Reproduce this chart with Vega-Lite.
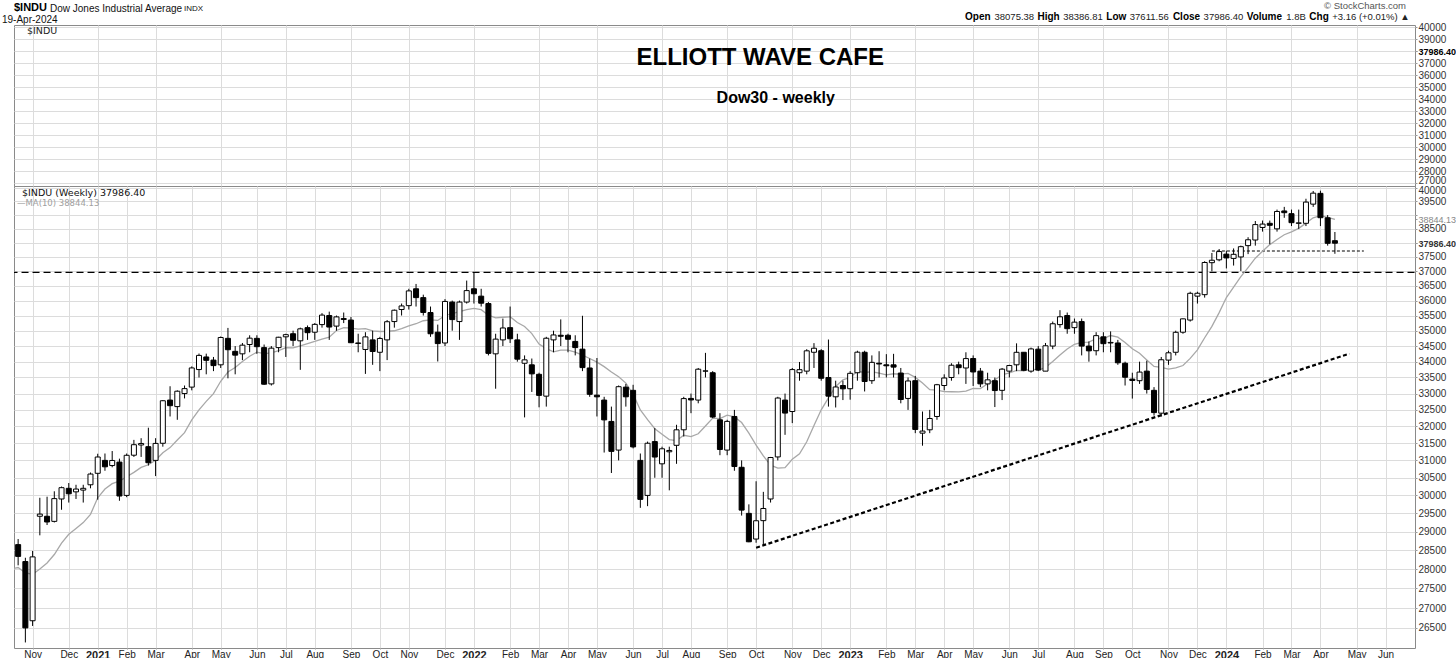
{
  "$schema": "https://vega.github.io/schema/vega-lite/v6.json",
  "background": "white",
  "padding": {"left": 1, "top": 0, "right": 0, "bottom": 0},
  "bounds": "flush",
  "spacing": 0,
  "config": {
    "font": "Liberation Sans",
    "view": {"stroke": "#8a8a8a", "strokeWidth": 1},
    "scale": {"continuousPadding": 0},
    "axis": {"gridColor": "#dcdcdc", "gridWidth": 1, "domain": false, "tickColor": "#999999", "labelColor": "#333333", "labelFont": "Liberation Sans", "labelOverlap": false, "labelBound": false},
    "axisX": {"labelOverlap": false},
    "axisTemporal": {"labelOverlap": false}
  },
  "datasets": {
    "candles": [
      {"d":"2020-08-10","o":27450,"h":28000,"l":27350,"c":27931},
      {"d":"2020-08-17","o":27900,"h":28000,"l":27600,"c":27930},
      {"d":"2020-08-24","o":28000,"h":28700,"l":27900,"c":28654},
      {"d":"2020-08-31","o":28500,"h":29200,"l":27700,"c":28133},
      {"d":"2020-09-07","o":28100,"h":28400,"l":27400,"c":27666},
      {"d":"2020-09-14","o":27700,"h":28200,"l":27500,"c":27657},
      {"d":"2020-09-21","o":27500,"h":27700,"l":26540,"c":27174},
      {"d":"2020-09-28","o":27300,"h":28000,"l":27200,"c":27683},
      {"d":"2020-10-05","o":27700,"h":28600,"l":27600,"c":28586},
      {"d":"2020-10-12","o":28600,"h":28990,"l":28300,"c":28606},
      {"d":"2020-10-19","o":28650,"h":28800,"l":28100,"c":28336},
      {"d":"2020-10-26","o":28200,"h":28300,"l":26143,"c":26502},
      {"d":"2020-11-02","o":26680,"h":28480,"l":26550,"c":28323},
      {"d":"2020-11-09","o":29420,"h":29934,"l":28900,"c":29480},
      {"d":"2020-11-16","o":29420,"h":29964,"l":29180,"c":29263},
      {"d":"2020-11-23","o":29280,"h":30116,"l":29250,"c":29910},
      {"d":"2020-11-30","o":29900,"h":30250,"l":29600,"c":30218},
      {"d":"2020-12-07","o":30200,"h":30350,"l":29800,"c":30046},
      {"d":"2020-12-14","o":30100,"h":30300,"l":29900,"c":30179},
      {"d":"2020-12-21","o":30150,"h":30300,"l":29800,"c":30200},
      {"d":"2020-12-28","o":30300,"h":30650,"l":30200,"c":30606},
      {"d":"2021-01-04","o":30627,"h":31193,"l":29881,"c":31098},
      {"d":"2021-01-11","o":31000,"h":31200,"l":30700,"c":30814},
      {"d":"2021-01-18","o":30850,"h":31272,"l":30800,"c":30997},
      {"d":"2021-01-25","o":30950,"h":31050,"l":29850,"c":29983},
      {"d":"2021-02-01","o":30000,"h":31200,"l":29950,"c":31148},
      {"d":"2021-02-08","o":31150,"h":31600,"l":31100,"c":31458},
      {"d":"2021-02-15","o":31450,"h":31650,"l":31100,"c":31494},
      {"d":"2021-02-22","o":31400,"h":31962,"l":30850,"c":30932},
      {"d":"2021-03-01","o":31000,"h":31650,"l":30547,"c":31496},
      {"d":"2021-03-08","o":31500,"h":32800,"l":31400,"c":32779},
      {"d":"2021-03-15","o":32800,"h":33227,"l":32300,"c":32628},
      {"d":"2021-03-22","o":32600,"h":33100,"l":32200,"c":33073},
      {"d":"2021-03-29","o":33000,"h":33250,"l":32850,"c":33153},
      {"d":"2021-04-05","o":33200,"h":33850,"l":33100,"c":33801},
      {"d":"2021-04-12","o":33750,"h":34260,"l":33500,"c":34200},
      {"d":"2021-04-19","o":34150,"h":34256,"l":33600,"c":34043},
      {"d":"2021-04-26","o":34050,"h":34150,"l":33700,"c":33875},
      {"d":"2021-05-03","o":33900,"h":34811,"l":33800,"c":34778},
      {"d":"2021-05-10","o":34750,"h":35091,"l":33474,"c":34382},
      {"d":"2021-05-17","o":34330,"h":34500,"l":33600,"c":34208},
      {"d":"2021-05-24","o":34250,"h":34600,"l":34050,"c":34529},
      {"d":"2021-05-31","o":34550,"h":34850,"l":34300,"c":34756},
      {"d":"2021-06-07","o":34750,"h":34850,"l":34250,"c":34480},
      {"d":"2021-06-14","o":34450,"h":34550,"l":33271,"c":33290},
      {"d":"2021-06-21","o":33300,"h":34500,"l":33250,"c":34433},
      {"d":"2021-06-28","o":34450,"h":34800,"l":34300,"c":34786},
      {"d":"2021-07-05","o":34800,"h":34900,"l":34150,"c":34870},
      {"d":"2021-07-12","o":34900,"h":35000,"l":34500,"c":34687},
      {"d":"2021-07-19","o":34670,"h":35100,"l":33741,"c":35061},
      {"d":"2021-07-26","o":35100,"h":35171,"l":34700,"c":34935},
      {"d":"2021-08-02","o":34950,"h":35250,"l":34700,"c":35208},
      {"d":"2021-08-09","o":35200,"h":35580,"l":35100,"c":35515},
      {"d":"2021-08-16","o":35500,"h":35630,"l":34700,"c":35120},
      {"d":"2021-08-23","o":35150,"h":35500,"l":35000,"c":35455},
      {"d":"2021-08-30","o":35400,"h":35600,"l":35250,"c":35369},
      {"d":"2021-09-06","o":35350,"h":35450,"l":34600,"c":34608},
      {"d":"2021-09-13","o":34600,"h":34900,"l":34300,"c":34585},
      {"d":"2021-09-20","o":34390,"h":34950,"l":33613,"c":34798},
      {"d":"2021-09-27","o":34700,"h":35000,"l":33900,"c":34326},
      {"d":"2021-10-04","o":34300,"h":34800,"l":33700,"c":34746},
      {"d":"2021-10-11","o":34700,"h":35350,"l":34050,"c":35295},
      {"d":"2021-10-18","o":35300,"h":35700,"l":35100,"c":35677},
      {"d":"2021-10-25","o":35700,"h":35900,"l":35500,"c":35820},
      {"d":"2021-11-01","o":35830,"h":36400,"l":35700,"c":36328},
      {"d":"2021-11-08","o":36400,"h":36565,"l":35800,"c":36100},
      {"d":"2021-11-15","o":36100,"h":36200,"l":35500,"c":35602},
      {"d":"2021-11-22","o":35600,"h":35800,"l":34800,"c":34899},
      {"d":"2021-11-29","o":34950,"h":35200,"l":34006,"c":34580},
      {"d":"2021-12-06","o":34600,"h":36050,"l":34500,"c":35971},
      {"d":"2021-12-13","o":35950,"h":36000,"l":35000,"c":35365},
      {"d":"2021-12-20","o":35300,"h":36000,"l":34700,"c":35950},
      {"d":"2021-12-27","o":35950,"h":36680,"l":35900,"c":36338},
      {"d":"2022-01-03","o":36400,"h":36952,"l":35900,"c":36231},
      {"d":"2022-01-10","o":36150,"h":36400,"l":35800,"c":35912},
      {"d":"2022-01-17","o":35900,"h":35950,"l":34200,"c":34265},
      {"d":"2022-01-24","o":34250,"h":34900,"l":33150,"c":34725},
      {"d":"2022-01-31","o":34700,"h":35400,"l":34500,"c":35089},
      {"d":"2022-02-07","o":35100,"h":35800,"l":34600,"c":34738},
      {"d":"2022-02-14","o":34700,"h":34900,"l":34000,"c":34079},
      {"d":"2022-02-21","o":33950,"h":34200,"l":32272,"c":34058},
      {"d":"2022-02-28","o":33900,"h":34100,"l":33050,"c":33614},
      {"d":"2022-03-07","o":33600,"h":33650,"l":32578,"c":32944},
      {"d":"2022-03-14","o":32920,"h":34800,"l":32600,"c":34754},
      {"d":"2022-03-21","o":34700,"h":35000,"l":34300,"c":34861},
      {"d":"2022-03-28","o":34850,"h":35372,"l":34500,"c":34818},
      {"d":"2022-04-04","o":34850,"h":34900,"l":34300,"c":34721},
      {"d":"2022-04-11","o":34650,"h":34850,"l":34200,"c":34451},
      {"d":"2022-04-18","o":34400,"h":35492,"l":33700,"c":33811},
      {"d":"2022-04-25","o":33800,"h":34100,"l":32900,"c":32977},
      {"d":"2022-05-02","o":32950,"h":34117,"l":32300,"c":32899},
      {"d":"2022-05-09","o":32800,"h":32900,"l":31228,"c":32197},
      {"d":"2022-05-16","o":32150,"h":32600,"l":30636,"c":31262},
      {"d":"2022-05-23","o":31300,"h":33250,"l":31000,"c":33213},
      {"d":"2022-05-30","o":33200,"h":33300,"l":32600,"c":32900},
      {"d":"2022-06-06","o":33100,"h":33272,"l":31350,"c":31393},
      {"d":"2022-06-13","o":31000,"h":31200,"l":29653,"c":29889},
      {"d":"2022-06-20","o":30000,"h":31550,"l":29700,"c":31501},
      {"d":"2022-06-27","o":31550,"h":31950,"l":30500,"c":31097},
      {"d":"2022-07-04","o":30900,"h":31400,"l":30500,"c":31338},
      {"d":"2022-07-11","o":31250,"h":31400,"l":30143,"c":31289},
      {"d":"2022-07-18","o":31440,"h":32050,"l":30900,"c":31899},
      {"d":"2022-07-25","o":31900,"h":32900,"l":31700,"c":32845},
      {"d":"2022-08-01","o":32850,"h":33000,"l":32400,"c":32803},
      {"d":"2022-08-08","o":32800,"h":33800,"l":32700,"c":33761},
      {"d":"2022-08-15","o":33700,"h":34281,"l":33500,"c":33707},
      {"d":"2022-08-22","o":33650,"h":33700,"l":32250,"c":32283},
      {"d":"2022-08-29","o":32200,"h":32400,"l":31150,"c":31318},
      {"d":"2022-09-05","o":31300,"h":32200,"l":31150,"c":32152},
      {"d":"2022-09-12","o":32300,"h":32500,"l":30700,"c":30822},
      {"d":"2022-09-19","o":30800,"h":31000,"l":29439,"c":29590},
      {"d":"2022-09-26","o":29500,"h":29750,"l":28715,"c":28726},
      {"d":"2022-10-03","o":28800,"h":30400,"l":28700,"c":29297},
      {"d":"2022-10-10","o":29300,"h":30100,"l":28660,"c":29635},
      {"d":"2022-10-17","o":29900,"h":31100,"l":29800,"c":31083},
      {"d":"2022-10-24","o":31100,"h":32900,"l":31000,"c":32862},
      {"d":"2022-10-31","o":32800,"h":33000,"l":31750,"c":32403},
      {"d":"2022-11-07","o":32450,"h":33800,"l":32100,"c":33749},
      {"d":"2022-11-14","o":33650,"h":33990,"l":33400,"c":33746},
      {"d":"2022-11-21","o":33700,"h":34400,"l":33600,"c":34347},
      {"d":"2022-11-28","o":34300,"h":34595,"l":33800,"c":34430},
      {"d":"2022-12-05","o":34350,"h":34400,"l":33400,"c":33476},
      {"d":"2022-12-12","o":33500,"h":34712,"l":32600,"c":32920},
      {"d":"2022-12-19","o":32900,"h":33400,"l":32573,"c":33204},
      {"d":"2022-12-26","o":33250,"h":33400,"l":32800,"c":33147},
      {"d":"2023-01-02","o":33150,"h":33700,"l":32812,"c":33631},
      {"d":"2023-01-09","o":33650,"h":34350,"l":33400,"c":34303},
      {"d":"2023-01-16","o":34300,"h":34350,"l":33065,"c":33375},
      {"d":"2023-01-23","o":33400,"h":34200,"l":33300,"c":33978},
      {"d":"2023-01-30","o":33950,"h":34334,"l":33500,"c":33926},
      {"d":"2023-02-06","o":33900,"h":34240,"l":33500,"c":33869},
      {"d":"2023-02-13","o":33900,"h":34250,"l":33500,"c":33827},
      {"d":"2023-02-20","o":33640,"h":33800,"l":32700,"c":32817},
      {"d":"2023-02-27","o":32850,"h":33500,"l":32500,"c":33391},
      {"d":"2023-03-06","o":33400,"h":33550,"l":31800,"c":31910},
      {"d":"2023-03-13","o":31800,"h":32450,"l":31429,"c":31862},
      {"d":"2023-03-20","o":31900,"h":32500,"l":31800,"c":32238},
      {"d":"2023-03-27","o":32300,"h":33300,"l":32200,"c":33274},
      {"d":"2023-04-03","o":33250,"h":33600,"l":33100,"c":33485},
      {"d":"2023-04-10","o":33500,"h":33950,"l":33400,"c":33887},
      {"d":"2023-04-17","o":33900,"h":34000,"l":33600,"c":33809},
      {"d":"2023-04-24","o":33800,"h":34300,"l":33300,"c":34098},
      {"d":"2023-05-01","o":34100,"h":34200,"l":33235,"c":33674},
      {"d":"2023-05-08","o":33700,"h":33800,"l":33200,"c":33301},
      {"d":"2023-05-15","o":33300,"h":33650,"l":33100,"c":33427},
      {"d":"2023-05-22","o":33400,"h":33500,"l":32586,"c":33093},
      {"d":"2023-05-29","o":33100,"h":33800,"l":32800,"c":33763},
      {"d":"2023-06-05","o":33700,"h":33900,"l":33500,"c":33877},
      {"d":"2023-06-12","o":33900,"h":34588,"l":33700,"c":34299},
      {"d":"2023-06-19","o":34300,"h":34300,"l":33700,"c":33727},
      {"d":"2023-06-26","o":33700,"h":34450,"l":33650,"c":34408},
      {"d":"2023-07-03","o":34400,"h":34500,"l":33700,"c":33734},
      {"d":"2023-07-10","o":33700,"h":34600,"l":33700,"c":34509},
      {"d":"2023-07-17","o":34500,"h":35300,"l":34400,"c":35228},
      {"d":"2023-07-24","o":35200,"h":35679,"l":35100,"c":35459},
      {"d":"2023-07-31","o":35500,"h":35600,"l":34900,"c":35066},
      {"d":"2023-08-07","o":35100,"h":35400,"l":34900,"c":35281},
      {"d":"2023-08-14","o":35300,"h":35400,"l":34200,"c":34500},
      {"d":"2023-08-21","o":34500,"h":34650,"l":34000,"c":34346},
      {"d":"2023-08-28","o":34350,"h":34950,"l":34200,"c":34838},
      {"d":"2023-09-04","o":34800,"h":34950,"l":34300,"c":34577},
      {"d":"2023-09-11","o":34600,"h":34977,"l":34300,"c":34618},
      {"d":"2023-09-18","o":34600,"h":34700,"l":33900,"c":33964},
      {"d":"2023-09-25","o":33950,"h":34000,"l":33250,"c":33508},
      {"d":"2023-10-02","o":33450,"h":33650,"l":32846,"c":33407},
      {"d":"2023-10-09","o":33400,"h":34000,"l":33300,"c":33670},
      {"d":"2023-10-16","o":33700,"h":34030,"l":33000,"c":33127},
      {"d":"2023-10-23","o":33100,"h":33200,"l":32327,"c":32418},
      {"d":"2023-10-30","o":32400,"h":34150,"l":32300,"c":34061},
      {"d":"2023-11-06","o":34050,"h":34350,"l":33900,"c":34283},
      {"d":"2023-11-13","o":34300,"h":35000,"l":34200,"c":34947},
      {"d":"2023-11-20","o":34950,"h":35400,"l":34900,"c":35390},
      {"d":"2023-11-27","o":35350,"h":36300,"l":35300,"c":36246},
      {"d":"2023-12-04","o":36150,"h":36300,"l":35900,"c":36248},
      {"d":"2023-12-11","o":36200,"h":37350,"l":36100,"c":37306},
      {"d":"2023-12-18","o":37300,"h":37641,"l":37000,"c":37385},
      {"d":"2023-12-25","o":37400,"h":37780,"l":37350,"c":37690},
      {"d":"2024-01-01","o":37600,"h":37720,"l":37100,"c":37466},
      {"d":"2024-01-08","o":37450,"h":37800,"l":37200,"c":37593},
      {"d":"2024-01-15","o":37500,"h":37900,"l":37012,"c":37863},
      {"d":"2024-01-22","o":37900,"h":38200,"l":37600,"c":38109},
      {"d":"2024-01-29","o":38100,"h":38783,"l":37900,"c":38654},
      {"d":"2024-02-05","o":38550,"h":38800,"l":38400,"c":38672},
      {"d":"2024-02-12","o":38700,"h":38800,"l":37950,"c":38628},
      {"d":"2024-02-19","o":38500,"h":39200,"l":38400,"c":39131},
      {"d":"2024-02-26","o":39150,"h":39300,"l":38900,"c":39087},
      {"d":"2024-03-04","o":39050,"h":39200,"l":38600,"c":38723},
      {"d":"2024-03-11","o":38700,"h":39200,"l":38500,"c":38715},
      {"d":"2024-03-18","o":38700,"h":39600,"l":38600,"c":39476},
      {"d":"2024-03-25","o":39400,"h":39889,"l":39300,"c":39807},
      {"d":"2024-04-01","o":39800,"h":39900,"l":38600,"c":38904},
      {"d":"2024-04-08","o":38900,"h":39000,"l":37900,"c":37983},
      {"d":"2024-04-15","o":38075.38,"h":38386.81,"l":37611.56,"c":37986.40}
    ],
    "notes": [
      {"label": "ELLIOTT WAVE CAFE", "d": "2022-10-07", "v": 37417},
      {"label": "Dow30 - weekly", "d": "2022-10-22", "v": 34084}
    ],
    "trend": [
      {"d": "2022-10-03", "v": 28568},
      {"d": "2024-04-29", "v": 34255}
    ],
    "support": [
      {"d": "2023-12-18", "v": 37710},
      {"d": "2024-05-13", "v": 37710}
    ],
    "level": [
      {"d": "2020-10-01", "v": 36960},
      {"d": "2024-07-15", "v": 36960}
    ]
  },
  "vconcat": [
    {
      "width": 1401,
      "height": 161,
      "layer": [
        {
          "data": {"name": "notes"},
          "transform": [{"filter": "datum.label == 'ELLIOTT WAVE CAFE'"}],
          "mark": {"type": "text", "font": "Liberation Sans", "fontSize": 24, "fontWeight": "bold", "color": "#000000", "align": "center", "baseline": "middle"},
          "encoding": {
            "x": {"field": "d", "type": "temporal", "title": null,
              "scale": {"type": "utc", "padding": 0, "domain": [{"year": 2020, "month": 10, "date": 15, "utc": true}, {"year": 2024, "month": 7, "date": 1, "hours": 12, "utc": true}]},
              "axis": {"labels": false, "ticks": false, "domain": false, "grid": true, "title": null,
                "values": [
                  {"year":2020,"month":11,"date":2,"utc":true},{"year":2020,"month":12,"date":7,"utc":true},
                  {"year":2021,"month":1,"date":4,"utc":true},{"year":2021,"month":2,"date":1,"utc":true},{"year":2021,"month":3,"date":1,"utc":true},{"year":2021,"month":4,"date":5,"utc":true},{"year":2021,"month":5,"date":3,"utc":true},{"year":2021,"month":6,"date":7,"utc":true},{"year":2021,"month":7,"date":5,"utc":true},{"year":2021,"month":8,"date":2,"utc":true},{"year":2021,"month":9,"date":6,"utc":true},{"year":2021,"month":10,"date":4,"utc":true},{"year":2021,"month":11,"date":1,"utc":true},{"year":2021,"month":12,"date":6,"utc":true},
                  {"year":2022,"month":1,"date":3,"utc":true},{"year":2022,"month":2,"date":7,"utc":true},{"year":2022,"month":3,"date":7,"utc":true},{"year":2022,"month":4,"date":4,"utc":true},{"year":2022,"month":5,"date":2,"utc":true},{"year":2022,"month":6,"date":6,"utc":true},{"year":2022,"month":7,"date":4,"utc":true},{"year":2022,"month":8,"date":1,"utc":true},{"year":2022,"month":9,"date":5,"utc":true},{"year":2022,"month":10,"date":3,"utc":true},{"year":2022,"month":11,"date":7,"utc":true},{"year":2022,"month":12,"date":5,"utc":true},
                  {"year":2023,"month":1,"date":2,"utc":true},{"year":2023,"month":2,"date":6,"utc":true},{"year":2023,"month":3,"date":6,"utc":true},{"year":2023,"month":4,"date":3,"utc":true},{"year":2023,"month":5,"date":1,"utc":true},{"year":2023,"month":6,"date":5,"utc":true},{"year":2023,"month":7,"date":3,"utc":true},{"year":2023,"month":8,"date":7,"utc":true},{"year":2023,"month":9,"date":4,"utc":true},{"year":2023,"month":10,"date":2,"utc":true},{"year":2023,"month":11,"date":6,"utc":true},{"year":2023,"month":12,"date":4,"utc":true},
                  {"year":2024,"month":1,"date":1,"utc":true},{"year":2024,"month":2,"date":5,"utc":true},{"year":2024,"month":3,"date":4,"utc":true},{"year":2024,"month":4,"date":1,"utc":true},{"year":2024,"month":5,"date":6,"utc":true},{"year":2024,"month":6,"date":3,"utc":true}
                ]}},
            "y": {"field": "v", "type": "quantitative", "title": null,
              "scale": {"domain": [26750, 40167], "nice": false, "zero": false, "padding": 0},
              "axis": {"orient": "right", "grid": true, "domain": false, "tickSize": 2, "labelPadding": 1, "labelFontSize": 10, "labelOverlap": false, "labelBound": false, "tickCount": 20,
                "values": [27000, 28000, 29000, 30000, 31000, 32000, 33000, 34000, 35000, 36000, 37000, 37986.4, 38000, 39000, 40000],
                "labelExpr": "datum.value == 38000 ? '' : (datum.value == 37986.4 ? '37986.40' : format(datum.value, 'd'))",
                "labelFontWeight": {"condition": {"test": "datum.value == 37986.4", "value": "bold"}, "value": "normal"},
                "labelFontSize": {"condition": {"test": "datum.value == 37986.4", "value": 9}, "value": 10},
                "labelOffset": {"condition": {"test": "datum.value == 27000", "value": -3}, "value": 0},
                "labelColor": {"condition": {"test": "datum.value == 37986.4", "value": "#000000"}, "value": "#333333"},
                "gridOpacity": {"condition": {"test": "datum.value % 1000 != 0", "value": 0}, "value": 1}}},
            "text": {"field": "label"}
          }
        },
        {
          "data": {"name": "notes"},
          "transform": [{"filter": "datum.label == 'Dow30 - weekly'"}],
          "mark": {"type": "text", "font": "Liberation Sans", "fontSize": 16, "fontWeight": "bold", "color": "#000000", "align": "center", "baseline": "middle"},
          "encoding": {
            "x": {"field": "d", "type": "temporal", "title": null},
            "y": {"field": "v", "type": "quantitative", "title": null},
            "text": {"field": "label"}
          }
        },
        {
          "data": {"values": [{"t": "$INDU"}]},
          "mark": {"type": "text", "font": "DejaVu Sans", "fontSize": 9.5, "color": "#222222", "align": "left", "baseline": "middle", "dx": 13, "dy": 6},
          "encoding": {
            "x": {"datum": {"year": 2020, "month": 10, "date": 15, "utc": true}, "type": "temporal", "title": null},
            "y": {"datum": 40167, "type": "quantitative", "title": null},
            "text": {"field": "t"}
          }
        },
        {
          "data": {"values": [{"t": "$INDU"}]},
          "mark": {"type": "text", "font": "Liberation Sans", "fontSize": 11, "fontWeight": "bold", "color": "#000000", "align": "left", "baseline": "middle", "dx": 0, "dy": -17},
          "encoding": {
            "x": {"datum": {"year": 2020, "month": 10, "date": 15, "utc": true}, "type": "temporal", "title": null},
            "y": {"datum": 40167, "type": "quantitative", "title": null},
            "text": {"field": "t"}
          }
        },
        {
          "data": {"values": [{"t": "Dow Jones Industrial Average"}]},
          "mark": {"type": "text", "font": "Liberation Sans", "fontSize": 10, "color": "#111111", "align": "left", "baseline": "middle", "dx": 36, "dy": -16},
          "encoding": {
            "x": {"datum": {"year": 2020, "month": 10, "date": 15, "utc": true}, "type": "temporal", "title": null},
            "y": {"datum": 40167, "type": "quantitative", "title": null},
            "text": {"field": "t"}
          }
        },
        {
          "data": {"values": [{"t": "INDX"}]},
          "mark": {"type": "text", "font": "Liberation Sans", "fontSize": 8, "color": "#111111", "align": "left", "baseline": "middle", "dx": 170, "dy": -16},
          "encoding": {
            "x": {"datum": {"year": 2020, "month": 10, "date": 15, "utc": true}, "type": "temporal", "title": null},
            "y": {"datum": 40167, "type": "quantitative", "title": null},
            "text": {"field": "t"}
          }
        },
        {
          "data": {"values": [{"t": "19-Apr-2024"}]},
          "mark": {"type": "text", "font": "Liberation Sans", "fontSize": 10, "color": "#111111", "align": "left", "baseline": "middle", "dx": -12, "dy": -5},
          "encoding": {
            "x": {"datum": {"year": 2020, "month": 10, "date": 15, "utc": true}, "type": "temporal", "title": null},
            "y": {"datum": 40167, "type": "quantitative", "title": null},
            "text": {"field": "t"}
          }
        },
        {
          "data": {"values": [{"t": "© StockCharts.com"}]},
          "mark": {"type": "text", "font": "Liberation Sans", "fontSize": 9.5, "color": "#555555", "align": "right", "baseline": "middle", "dx": -9, "dy": -19},
          "encoding": {
            "x": {"datum": {"year": 2024, "month": 7, "date": 1, "hours": 12, "utc": true}, "type": "temporal", "title": null},
            "y": {"datum": 40167, "type": "quantitative", "title": null},
            "text": {"field": "t"}
          }
        },
        {
          "data": {"values": [{"t": "Open"}]},
          "mark": {"type": "text", "font": "Liberation Sans", "fontSize": 10, "fontWeight": "bold", "color": "#000000", "align": "left", "baseline": "middle", "dx": -450, "dy": -8},
          "encoding": {"x": {"datum": {"year": 2024, "month": 7, "date": 1, "hours": 12, "utc": true}, "type": "temporal", "title": null}, "y": {"datum": 40167, "type": "quantitative", "title": null}, "text": {"field": "t"}}
        },
        {
          "data": {"values": [{"t": "38075.38"}]},
          "mark": {"type": "text", "font": "Liberation Sans", "fontSize": 9.5, "color": "#222222", "align": "left", "baseline": "middle", "dx": -420.5, "dy": -8},
          "encoding": {"x": {"datum": {"year": 2024, "month": 7, "date": 1, "hours": 12, "utc": true}, "type": "temporal", "title": null}, "y": {"datum": 40167, "type": "quantitative", "title": null}, "text": {"field": "t"}}
        },
        {
          "data": {"values": [{"t": "High"}]},
          "mark": {"type": "text", "font": "Liberation Sans", "fontSize": 10, "fontWeight": "bold", "color": "#000000", "align": "left", "baseline": "middle", "dx": -377.5, "dy": -8},
          "encoding": {"x": {"datum": {"year": 2024, "month": 7, "date": 1, "hours": 12, "utc": true}, "type": "temporal", "title": null}, "y": {"datum": 40167, "type": "quantitative", "title": null}, "text": {"field": "t"}}
        },
        {
          "data": {"values": [{"t": "38386.81"}]},
          "mark": {"type": "text", "font": "Liberation Sans", "fontSize": 9.5, "color": "#222222", "align": "left", "baseline": "middle", "dx": -351.8, "dy": -8},
          "encoding": {"x": {"datum": {"year": 2024, "month": 7, "date": 1, "hours": 12, "utc": true}, "type": "temporal", "title": null}, "y": {"datum": 40167, "type": "quantitative", "title": null}, "text": {"field": "t"}}
        },
        {
          "data": {"values": [{"t": "Low"}]},
          "mark": {"type": "text", "font": "Liberation Sans", "fontSize": 10, "fontWeight": "bold", "color": "#000000", "align": "left", "baseline": "middle", "dx": -308.7, "dy": -8},
          "encoding": {"x": {"datum": {"year": 2024, "month": 7, "date": 1, "hours": 12, "utc": true}, "type": "temporal", "title": null}, "y": {"datum": 40167, "type": "quantitative", "title": null}, "text": {"field": "t"}}
        },
        {
          "data": {"values": [{"t": "37611.56"}]},
          "mark": {"type": "text", "font": "Liberation Sans", "fontSize": 9.5, "color": "#222222", "align": "left", "baseline": "middle", "dx": -285.2, "dy": -8},
          "encoding": {"x": {"datum": {"year": 2024, "month": 7, "date": 1, "hours": 12, "utc": true}, "type": "temporal", "title": null}, "y": {"datum": 40167, "type": "quantitative", "title": null}, "text": {"field": "t"}}
        },
        {
          "data": {"values": [{"t": "Close"}]},
          "mark": {"type": "text", "font": "Liberation Sans", "fontSize": 10, "fontWeight": "bold", "color": "#000000", "align": "left", "baseline": "middle", "dx": -242.1, "dy": -8},
          "encoding": {"x": {"datum": {"year": 2024, "month": 7, "date": 1, "hours": 12, "utc": true}, "type": "temporal", "title": null}, "y": {"datum": 40167, "type": "quantitative", "title": null}, "text": {"field": "t"}}
        },
        {
          "data": {"values": [{"t": "37986.40"}]},
          "mark": {"type": "text", "font": "Liberation Sans", "fontSize": 9.5, "color": "#222222", "align": "left", "baseline": "middle", "dx": -211.4, "dy": -8},
          "encoding": {"x": {"datum": {"year": 2024, "month": 7, "date": 1, "hours": 12, "utc": true}, "type": "temporal", "title": null}, "y": {"datum": 40167, "type": "quantitative", "title": null}, "text": {"field": "t"}}
        },
        {
          "data": {"values": [{"t": "Volume"}]},
          "mark": {"type": "text", "font": "Liberation Sans", "fontSize": 10, "fontWeight": "bold", "color": "#000000", "align": "left", "baseline": "middle", "dx": -168.3, "dy": -8},
          "encoding": {"x": {"datum": {"year": 2024, "month": 7, "date": 1, "hours": 12, "utc": true}, "type": "temporal", "title": null}, "y": {"datum": 40167, "type": "quantitative", "title": null}, "text": {"field": "t"}}
        },
        {
          "data": {"values": [{"t": "1.8B"}]},
          "mark": {"type": "text", "font": "Liberation Sans", "fontSize": 9.5, "color": "#222222", "align": "left", "baseline": "middle", "dx": -128.7, "dy": -8},
          "encoding": {"x": {"datum": {"year": 2024, "month": 7, "date": 1, "hours": 12, "utc": true}, "type": "temporal", "title": null}, "y": {"datum": 40167, "type": "quantitative", "title": null}, "text": {"field": "t"}}
        },
        {
          "data": {"values": [{"t": "Chg"}]},
          "mark": {"type": "text", "font": "Liberation Sans", "fontSize": 10, "fontWeight": "bold", "color": "#000000", "align": "left", "baseline": "middle", "dx": -105.7, "dy": -8},
          "encoding": {"x": {"datum": {"year": 2024, "month": 7, "date": 1, "hours": 12, "utc": true}, "type": "temporal", "title": null}, "y": {"datum": 40167, "type": "quantitative", "title": null}, "text": {"field": "t"}}
        },
        {
          "data": {"values": [{"t": "+3.16 (+0.01%) ▲"}]},
          "mark": {"type": "text", "font": "Liberation Sans", "fontSize": 9.5, "color": "#222222", "align": "left", "baseline": "middle", "dx": -82.8, "dy": -8},
          "encoding": {"x": {"datum": {"year": 2024, "month": 7, "date": 1, "hours": 12, "utc": true}, "type": "temporal", "title": null}, "y": {"datum": 40167, "type": "quantitative", "title": null}, "text": {"field": "t"}}
        }
      ]
    },
    {
      "width": 1401,
      "height": 462,
      "encoding": {
        "x": {"field": "d", "type": "temporal", "title": null,
          "scale": {"type": "utc", "padding": 0, "domain": [{"year": 2020, "month": 10, "date": 15, "utc": true}, {"year": 2024, "month": 7, "date": 1, "hours": 12, "utc": true}]},
          "axis": {"grid": true, "domain": false, "ticks": true, "tickSize": 1, "labelPadding": 0, "title": null, "labelOverlap": false, "labelFlush": false, "labelBound": false, "labelSeparation": 0,
            "labelFont": "Liberation Sans Narrow, Liberation Sans",
            "labelColor": "#222222",
            "labelExpr": "utcmonth(datum.value) === 0 ? utcFormat(datum.value, '%Y') : utcFormat(datum.value, '%b')",
            "labelFontSize": {"condition": {"test": "utcmonth(datum.value) === 0", "value": 11}, "value": 10},
            "labelFontWeight": {"condition": {"test": "utcmonth(datum.value) === 0", "value": "bold"}, "value": "normal"},
            "values": [
              {"year":2020,"month":11,"date":2,"utc":true},{"year":2020,"month":12,"date":7,"utc":true},
              {"year":2021,"month":1,"date":4,"utc":true},{"year":2021,"month":2,"date":1,"utc":true},{"year":2021,"month":3,"date":1,"utc":true},{"year":2021,"month":4,"date":5,"utc":true},{"year":2021,"month":5,"date":3,"utc":true},{"year":2021,"month":6,"date":7,"utc":true},{"year":2021,"month":7,"date":5,"utc":true},{"year":2021,"month":8,"date":2,"utc":true},{"year":2021,"month":9,"date":6,"utc":true},{"year":2021,"month":10,"date":4,"utc":true},{"year":2021,"month":11,"date":1,"utc":true},{"year":2021,"month":12,"date":6,"utc":true},
              {"year":2022,"month":1,"date":3,"utc":true},{"year":2022,"month":2,"date":7,"utc":true},{"year":2022,"month":3,"date":7,"utc":true},{"year":2022,"month":4,"date":4,"utc":true},{"year":2022,"month":5,"date":2,"utc":true},{"year":2022,"month":6,"date":6,"utc":true},{"year":2022,"month":7,"date":4,"utc":true},{"year":2022,"month":8,"date":1,"utc":true},{"year":2022,"month":9,"date":5,"utc":true},{"year":2022,"month":10,"date":3,"utc":true},{"year":2022,"month":11,"date":7,"utc":true},{"year":2022,"month":12,"date":5,"utc":true},
              {"year":2023,"month":1,"date":2,"utc":true},{"year":2023,"month":2,"date":6,"utc":true},{"year":2023,"month":3,"date":6,"utc":true},{"year":2023,"month":4,"date":3,"utc":true},{"year":2023,"month":5,"date":1,"utc":true},{"year":2023,"month":6,"date":5,"utc":true},{"year":2023,"month":7,"date":3,"utc":true},{"year":2023,"month":8,"date":7,"utc":true},{"year":2023,"month":9,"date":4,"utc":true},{"year":2023,"month":10,"date":2,"utc":true},{"year":2023,"month":11,"date":6,"utc":true},{"year":2023,"month":12,"date":4,"utc":true},
              {"year":2024,"month":1,"date":1,"utc":true},{"year":2024,"month":2,"date":5,"utc":true},{"year":2024,"month":3,"date":4,"utc":true},{"year":2024,"month":4,"date":1,"utc":true},{"year":2024,"month":5,"date":6,"utc":true},{"year":2024,"month":6,"date":3,"utc":true}
            ]}}
      },
      "layer": [
        {
          "data": {"name": "level"},
          "mark": {"type": "line", "color": "#000000", "strokeWidth": 1.3, "strokeDash": [7, 4], "clip": true},
          "encoding": {"y": {"field": "v", "type": "quantitative", "title": null}}
        },
        {
          "data": {"name": "support"},
          "mark": {"type": "line", "color": "#000000", "strokeWidth": 1.2, "strokeDash": [3, 2], "clip": true},
          "encoding": {"y": {"field": "v", "type": "quantitative", "title": null}}
        },
        {
          "data": {"name": "trend"},
          "mark": {"type": "line", "color": "#000000", "strokeWidth": 2.2, "strokeDash": [4, 2.5], "clip": true},
          "encoding": {"y": {"field": "v", "type": "quantitative", "title": null}}
        },
        {
          "data": {"name": "candles"},
          "transform": [{"window": [{"op": "mean", "field": "c", "as": "ma"}], "frame": [-9, 0], "sort": [{"field": "d", "order": "ascending"}]}],
          "mark": {"type": "line", "color": "#a8a8a8", "strokeWidth": 1.3, "clip": true},
          "encoding": {"y": {"field": "ma", "type": "quantitative", "title": null}}
        },
        {
          "data": {"name": "candles"},
          "mark": {"type": "rule", "color": "#000000", "strokeWidth": 1, "clip": true},
          "encoding": {
            "y": {"field": "l", "type": "quantitative", "title": null},
            "y2": {"field": "h"}
          }
        },
        {
          "data": {"name": "candles"},
          "mark": {"type": "bar", "size": 5, "stroke": "#000000", "strokeWidth": 1, "clip": true},
          "encoding": {
            "y": {"field": "o", "type": "quantitative", "title": null,
              "scale": {"type": "log", "domain": [26008, 40075], "nice": false, "zero": false, "padding": 0},
              "axis": {"orient": "right", "grid": true, "domain": false, "tickSize": 2, "labelPadding": 1, "labelFontSize": 10, "labelOverlap": false, "labelBound": false, "title": null,
                "values": [26500, 27000, 27500, 28000, 28500, 29000, 29500, 30000, 30500, 31000, 31500, 32000, 32500, 33000, 33500, 34000, 34500, 35000, 35500, 36000, 36500, 37000, 37500, 37986.4, 38000, 38500, 38844.13, 39000, 39500, 40000],
                "labelExpr": "(datum.value == 38000 || datum.value == 39000) ? '' : (datum.value == 37986.4 ? '37986.40' : (datum.value == 38844.13 ? '38844.13' : format(datum.value, 'd')))",
                "labelFontWeight": {"condition": {"test": "datum.value == 37986.4", "value": "bold"}, "value": "normal"},
                "labelFontSize": {"condition": {"test": "datum.value % 500 != 0", "value": 9}, "value": 10},
                "labelOffset": {"condition": {"test": "datum.value == 40000", "value": 2}, "value": 0},
                "labelColor": {"condition": {"test": "datum.value == 38844.13", "value": "#888888"}, "value": "#333333"},
                "gridOpacity": {"condition": {"test": "datum.value % 500 != 0", "value": 0}, "value": 1}}},
            "y2": {"field": "c"},
            "fill": {"condition": {"test": "datum.c >= datum.o", "value": "#ffffff"}, "value": "#000000"}
          }
        },
        {
          "data": {"values": [{"t": "$INDU (Weekly) 37986.40", "d": "2020-10-15"}]},
          "mark": {"type": "text", "font": "DejaVu Sans", "fontSize": 9.5, "color": "#111111", "align": "left", "baseline": "middle", "dx": 8, "dy": 7},
          "encoding": {
            "y": {"datum": 40075, "type": "quantitative", "title": null},
            "text": {"field": "t"}
          }
        },
        {
          "data": {"values": [{"t": "—MA(10) 38844.13", "d": "2020-10-15"}]},
          "mark": {"type": "text", "font": "DejaVu Sans", "fontSize": 8.5, "color": "#a0a0a0", "align": "left", "baseline": "middle", "dx": 3, "dy": 17},
          "encoding": {
            "y": {"datum": 40075, "type": "quantitative", "title": null},
            "text": {"field": "t"}
          }
        }
      ]
    }
  ]
}
